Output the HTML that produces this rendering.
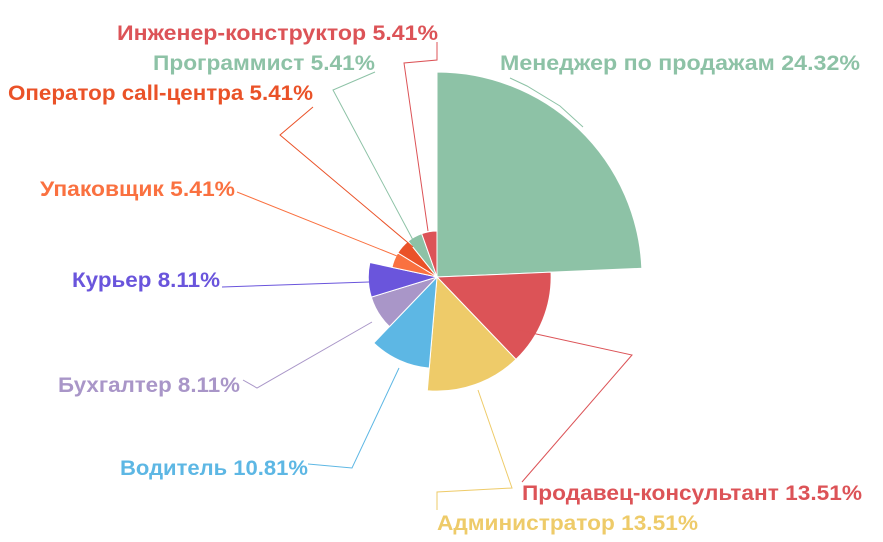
<!DOCTYPE html>
<html><head><meta charset="utf-8"><style>
html,body{margin:0;padding:0;background:#fff;}
svg{display:block;}
text{font-family:"Liberation Sans",sans-serif;font-size:21px;font-weight:bold;}
</style></head><body>
<svg id="s" width="883" height="542" xmlns="http://www.w3.org/2000/svg">
<g id="slices"></g>
<g fill="none" stroke-width="1">
<polyline points="583,127 560,106 527,86 510,78" stroke="#8dc2a6"/>
<polyline points="518,330 632,355 522,482" stroke="#dc5357"/>
<polyline points="478,390 512,488 437,492 437,510" stroke="#eecb69"/>
<polyline points="399,368 352,468 308,464" stroke="#5db7e4"/>
<polyline points="372,322 257,388 243,380" stroke="#a996c8"/>
<polyline points="369,282 222,287" stroke="#6a55dc"/>
<polyline points="402,258 237,192" stroke="#fa7140"/>
<polyline points="413,247 280,135 313,107" stroke="#ea5228"/>
<polyline points="413,240 333,90 375,72" stroke="#8dc2a6"/>
<polyline points="428,231 404,63 437,60 437,42" stroke="#dc5357"/>
</g>
<text x="500" y="70" fill="#8dc2a6" textLength="360" lengthAdjust="spacingAndGlyphs">Менеджер по продажам 24.32%</text>
<text x="522" y="500" fill="#dc5357" textLength="340" lengthAdjust="spacingAndGlyphs">Продавец-консультант 13.51%</text>
<text x="437" y="530" fill="#eecb69" textLength="261" lengthAdjust="spacingAndGlyphs">Администратор 13.51%</text>
<text x="120" y="475" fill="#5db7e4" textLength="188" lengthAdjust="spacingAndGlyphs">Водитель 10.81%</text>
<text x="58" y="392" fill="#a996c8" textLength="182" lengthAdjust="spacingAndGlyphs">Бухгалтер 8.11%</text>
<text x="72" y="287" fill="#6a55dc" textLength="148" lengthAdjust="spacingAndGlyphs">Курьер 8.11%</text>
<text x="40" y="196" fill="#fa7140" textLength="195" lengthAdjust="spacingAndGlyphs">Упаковщик 5.41%</text>
<text x="8" y="100" fill="#ea5228" textLength="305" lengthAdjust="spacingAndGlyphs">Оператор call-центра 5.41%</text>
<text x="153" y="70" fill="#8dc2a6" textLength="222" lengthAdjust="spacingAndGlyphs">Программист 5.41%</text>
<text x="117" y="40" fill="#dc5357" textLength="321" lengthAdjust="spacingAndGlyphs">Инженер-конструктор 5.41%</text>
</svg>
<script>
var v=[9,5,5,4,3,3,2,2,2,2];
var c=["#8dc2a6","#dc5357","#eecb69","#5db7e4","#a996c8","#6a55dc","#fa7140","#ea5228","#8dc2a6","#dc5357"];
var cx=437,cy=277,tot=37,a=0,g=document.getElementById("slices"),h="";
for(var i=0;i<v.length;i++){
 var r=46+(v[i]-2)/7*159;
 var a0=a/tot*2*Math.PI,a1=(a+v[i])/tot*2*Math.PI;a+=v[i];
 var x0=cx+r*Math.sin(a0),y0=cy-r*Math.cos(a0),x1=cx+r*Math.sin(a1),y1=cy-r*Math.cos(a1);
 h+='<path d="M'+cx+','+cy+' L'+x0+','+y0+' A'+r+','+r+' 0 '+((a1-a0)>Math.PI?1:0)+' 1 '+x1+','+y1+' Z" fill="'+c[i]+'" stroke="#fff" stroke-width="1"/>';
}
g.innerHTML=h;
</script>
</body></html>
